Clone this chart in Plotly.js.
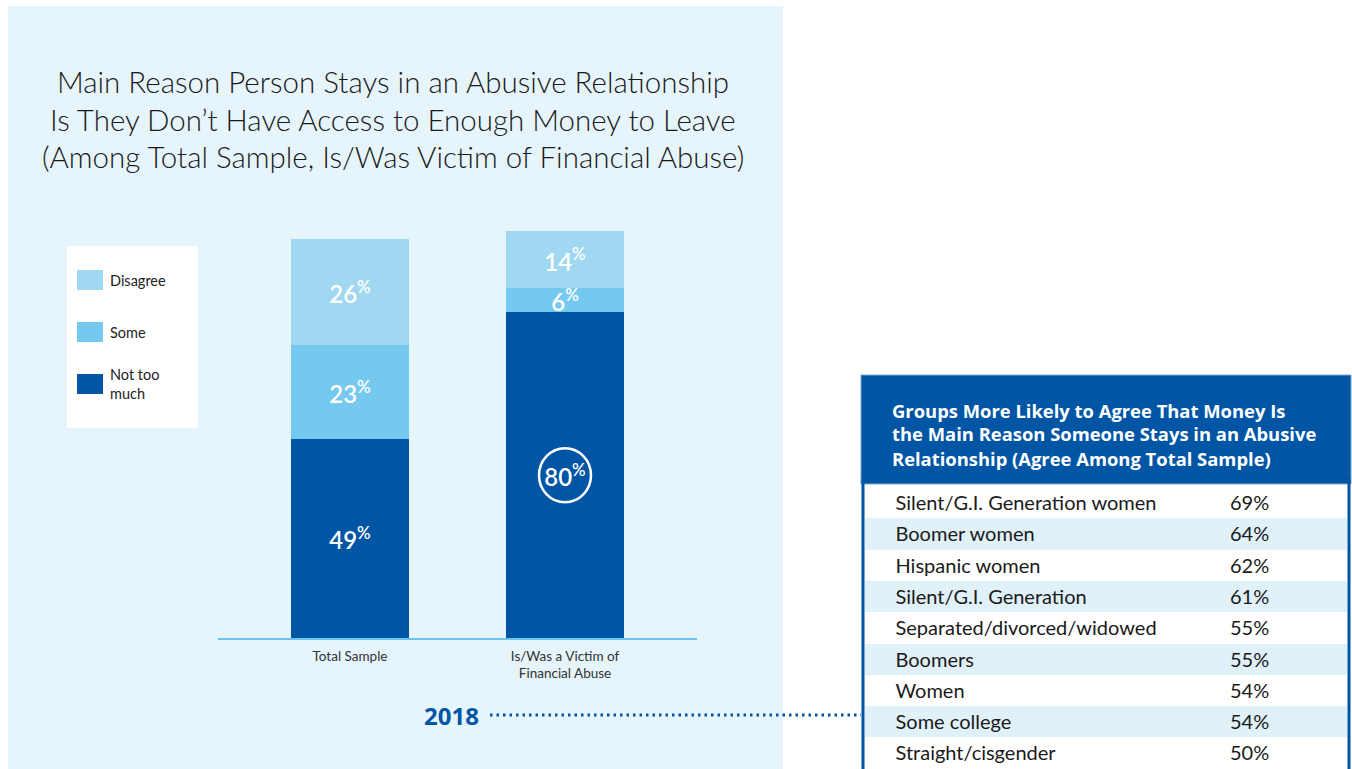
<!DOCTYPE html>
<html>
<head>
<meta charset="utf-8">
<script src="https://cdn.plot.ly/plotly-3.0.1.min.js"></script>
<style>html,body{margin:0;padding:0;background:#fff;}#chart{width:1352px;height:769px;}</style>
</head>
<body>
<div id="chart"></div>
<script>
// ---- data ----
const categories = ['Total Sample', 'Is/Was a Victim of<br>Financial Abuse'];
const seriesNames = ['Not too<br>much', 'Some', 'Disagree'];
const notTooMuch = [49, 80];
const some = [23, 6];
const disagree = [26, 14];
const seriesColors = ['#0055a5', '#76c9ee', '#a0d8f1'];

const titleLines = ['Main Reason Person Stays in an Abusive Relationship',
  'Is They Don\u2019t Have Access to Enough Money to Leave',
  '(Among Total Sample, Is/Was Victim of Financial Abuse)'];
const tableTitleLines = ['Groups More Likely to Agree That Money Is',
  'the Main Reason Someone Stays in an Abusive',
  'Relationship (Agree Among Total Sample)'];
const groupLabels = ['Silent/G.I. Generation women', 'Boomer women', 'Hispanic women', 'Silent/G.I. Generation',
  'Separated/divorced/widowed', 'Boomers', 'Women', 'Some college', 'Straight/cisgender'];
const groupValues = [69, 64, 62, 61, 55, 55, 54, 54, 50];
const yearLabel = '2018';

// ---- helpers ----
const W = 1352, H = 769;
const X = p => p / W;
const Y = p => 1 - p / H;
const FONT = 'Lato, "Open Sans", sans-serif';

const seriesValues = [notTooMuch, some, disagree];
const traces = seriesValues.map((vals, i) => ({
  type: 'bar',
  name: seriesNames[i].replace('<br>', ' '),
  x: categories,
  y: vals,
  marker: {color: seriesColors[i], line: {width: 0}},
  width: 0.549,
  texttemplate: '%{y}<sup>%</sup>',
  textposition: 'inside',
  insidetextanchor: 'middle',
  constraintext: 'none',
  textangle: 0,
  textfont: {family: FONT, size: 24, color: '#ffffff', weight: 600},
  hoverinfo: 'skip',
  showlegend: false
}));

// table (its heading band is transparent; heading text is drawn as annotations on a blue band)
const rowFill = groupLabels.map((_, i) => i % 2 === 0 ? '#ffffff' : '#e0f1fa');
const indent = '\u2002\u2002\u2009';
traces.push({
  type: 'table',
  domain: {x: [X(865), X(1347)], y: [0, Y(375)]},
  columnwidth: [357, 125],
  header: {
    values: ['', ''],
    height: 112,
    fill: {color: 'rgba(0,0,0,0)'},
    line: {width: 0, color: 'rgba(0,0,0,0)'}
  },
  cells: {
    values: [groupLabels.map(s => indent + s), groupValues.map(v => v + '%')],
    height: 31.3,
    align: ['left', 'left'],
    fill: {color: [rowFill, rowFill]},
    line: {width: 0, color: [rowFill, rowFill]},
    font: {family: FONT, size: 20, color: '#1a1a1a'}
  }
});

const shapes = [
  // light blue panel
  {type: 'rect', xref: 'paper', yref: 'paper', x0: X(8), x1: X(783), y0: Y(6), y1: -0.01,
   fillcolor: '#e6f4fc', line: {width: 0}, layer: 'below'},
  // legend box
  {type: 'rect', xref: 'paper', yref: 'paper', x0: X(67), x1: X(198), y0: Y(246), y1: Y(428),
   fillcolor: '#ffffff', line: {width: 0}, layer: 'below'},
  // circle around highlight value
  {type: 'circle', xref: 'x', yref: 'y', xsizemode: 'pixel', ysizemode: 'pixel',
   xanchor: 1, yanchor: notTooMuch[1] / 2, x0: -26, x1: 26, y0: -27, y1: 27,
   line: {color: '#ffffff', width: 2.5}, layer: 'above'},
  // dotted connector
  {type: 'line', xref: 'paper', yref: 'paper', x0: X(490), x1: X(861), y0: Y(715), y1: Y(715),
   line: {color: '#0055a5', width: 3, dash: '2.5px,4px'}},
  // table header background
  {type: 'rect', xref: 'paper', yref: 'paper', x0: X(861), x1: X(1351), y0: Y(375), y1: Y(484),
   fillcolor: '#0055a5', line: {color: '#7aa6d3', width: 1}, layer: 'below'},
  // table body border
  {type: 'rect', xref: 'paper', yref: 'paper', x0: X(863), x1: X(1349), y0: Y(480), y1: -0.02,
   fillcolor: 'rgba(0,0,0,0)', line: {color: '#0055a5', width: 3}, layer: 'below'}
];

const annotations = [
  {xref: 'paper', yref: 'paper', x: X(481), y: Y(715), xanchor: 'right', yanchor: 'middle',
   showarrow: false, text: '<b>' + yearLabel + '</b>',
   font: {family: '"Open Sans", sans-serif', size: 24, color: '#0055a5'}}
];
// chart title, one annotation per line
const titleY = [82, 119.5, 157];
titleLines.forEach((t, k) => annotations.push({
  xref: 'paper', yref: 'paper', x: X(393), y: Y(titleY[k]), xanchor: 'center', yanchor: 'middle',
  showarrow: false, text: t, font: {family: FONT, size: 29.5, color: '#1a1a1a', weight: 300}
}));
// table title, one annotation per line
const ttY = [410, 434, 458];
tableTitleLines.forEach((t, k) => annotations.push({
  xref: 'paper', yref: 'paper', x: X(890), y: Y(ttY[k]), xanchor: 'left', yanchor: 'middle',
  showarrow: false, text: t, font: {family: '"Open Sans", sans-serif', size: 18.4, color: '#ffffff', weight: 700}
}));

// manual legend (top to bottom: Disagree, Some, Not too much)
const legendOrder = [2, 1, 0];
const legendY = [280, 332, 384];
legendOrder.forEach((si, k) => {
  shapes.push({type: 'rect', xref: 'paper', yref: 'paper', x0: X(77), x1: X(103),
    y0: Y(legendY[k] - 10), y1: Y(legendY[k] + 10), fillcolor: seriesColors[si], line: {width: 0}});
  annotations.push({xref: 'paper', yref: 'paper', x: X(108), y: Y(legendY[k]), xanchor: 'left', yanchor: 'middle',
    align: 'left', showarrow: false, text: seriesNames[si],
    font: {family: FONT, size: 14.5, color: '#222222'}});
});

const layout = {
  width: W, height: H,
  margin: {l: 0, r: 0, t: 0, b: 0},
  paper_bgcolor: '#ffffff',
  plot_bgcolor: 'rgba(0,0,0,0)',
  barmode: 'stack',
  bargap: 0,
  showlegend: false,
  xaxis: {
    domain: [X(218), X(697)],
    type: 'category',
    range: [-0.614, 1.614],
    showline: true, linecolor: '#6cc4ea', linewidth: 1.5,
    ticks: '', showgrid: false, zeroline: false,
    ticklabelstandoff: 5,
    tickfont: {family: FONT, size: 13.5, color: '#333333'},
    fixedrange: true
  },
  yaxis: {
    domain: [Y(638), Y(231)],
    range: [0, 100],
    visible: false,
    fixedrange: true
  },
  shapes: shapes,
  annotations: annotations
};

Plotly.newPlot('chart', traces, layout, {displayModeBar: false, staticPlot: true});
</script>
</body>
</html>
